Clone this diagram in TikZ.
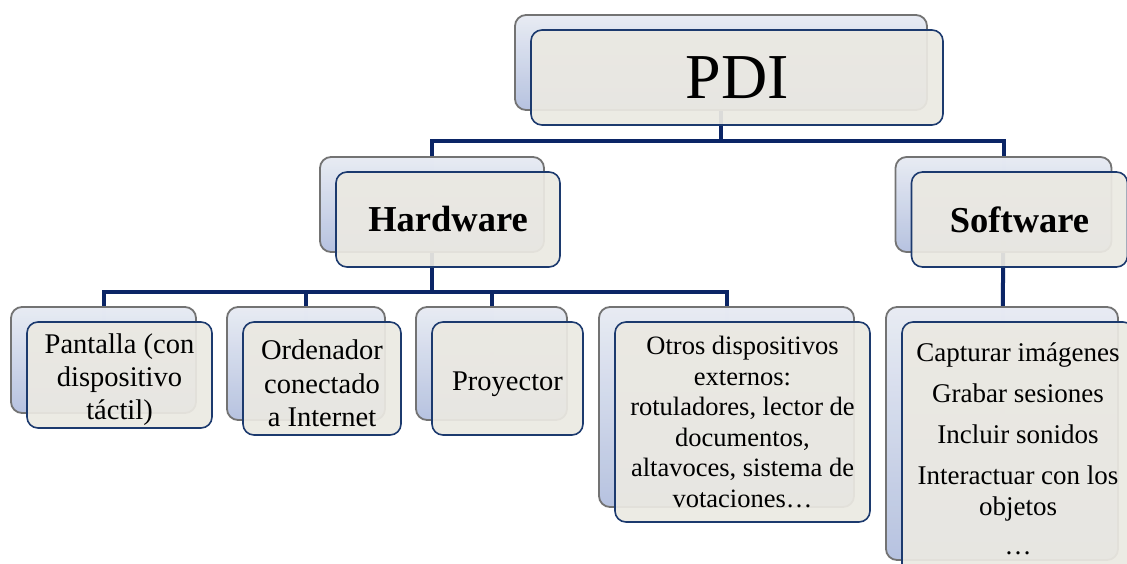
\documentclass[tikz,border=0pt]{standalone}
\usepackage{fontspec}
\setmainfont{Liberation Serif}
\usetikzlibrary{shadows,backgrounds}
\definecolor{linkblue}{HTML}{0B2566}
\definecolor{frontfill}{HTML}{EBE9E2}
\definecolor{frontline}{HTML}{1C3A6E}
\definecolor{backtop}{HTML}{E8ECF5}
\definecolor{backbot}{HTML}{B3C0E0}
\tikzset{
	box/.style={draw=frontline, line width=1.6pt, fill=frontfill, fill opacity=0.93, text opacity=1,
		rounded corners=11pt, inner sep=0pt, align=center,
		copy shadow={shadow xshift=-16pt, shadow yshift=15pt, draw=black!55, line width=1.8pt,
			top color=backtop, bottom color=backbot}},
	link/.style={draw=linkblue, line width=4pt},
}
\newcommand{\fs}[2]{\fontsize{#1}{#2}\selectfont}

\begin{document}
\begin{tikzpicture}[x=1pt, y=-1pt]
		%%%%% START %%%%%
		\useasboundingbox (0,0) rectangle (1127,563);
		
		\node[box, minimum width=412pt, minimum height=95pt, font=\fs{64}{70}] (pdi) at (737,77.5) {PDI};
		
		\node[box, minimum width=224pt, minimum height=95pt, font=\fs{36.5}{42}\bfseries] (hw) at (448,219.5) {Hardware};
		\node[box, minimum width=216pt, minimum height=95pt, font=\fs{36.5}{42}\bfseries] (sw) at (1019.5,219.5) {Software};
		
		\node[box, minimum width=185pt, minimum height=106pt, font=\fs{28.5}{33}] (pan) at (119.5,375) {\rule{0pt}{30pt}Pantalla (con\\dispositivo\\táctil)};
		\node[box, minimum width=158pt, minimum height=113pt, font=\fs{28.5}{33.5}] (ord) at (322,378.5) {\rule{0pt}{30pt}Ordenador\\conectado\\a Internet};
		\node[box, minimum width=151pt, minimum height=113pt, font=\fs{28.5}{33.5}] (pro) at (507.5,378.5) {\rule{0pt}{30pt}Proyector};
		\node[box, minimum width=255pt, minimum height=200pt, font=\fs{26.5}{30.5}] (otr) at (742.5,422) {Otros dispositivos\\externos:\\rotuladores, lector de\\documentos,\\altavoces, sistema de\\votaciones…};
		
		\node[box, minimum width=232pt, minimum height=253pt, font=\fs{27}{31}] (lst) at (1018,448.5) {Capturar imágenes\\[10pt]Grabar sesiones\\[10pt]Incluir sonidos\\[10pt]Interactuar con los\\objetos\\[8pt]…};
		
		\foreach \n in {pdi,hw,sw,pan,ord,pro,otr,lst}
			\coordinate (\n-b) at ([shift={(-16pt,15pt)}]\n.center);
		
		\begin{scope}[on background layer]
			\coordinate (bus-top) at (pdi-b |- 0,141);
			\draw[link] (pdi-b) -- (bus-top);
			\draw[link] (hw-b) |- (bus-top) -| (sw-b);
			
			\coordinate (bus-hw) at (hw-b |- 0,292);
			\draw[link] (hw-b) -- (bus-hw);
			\foreach \n in {pan,ord,pro,otr}
				\draw[link] (\n-b) |- (bus-hw);
			
			\draw[link] (sw-b) -- (lst-b);
		\end{scope}
		
		%%%%% END %%%%%
\end{tikzpicture}
\end{document}
